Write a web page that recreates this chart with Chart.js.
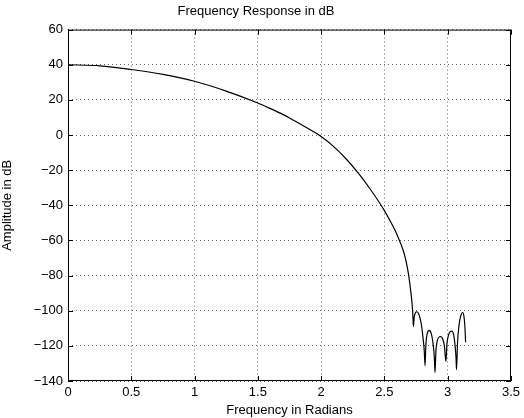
<!DOCTYPE html>
<html>
<head>
<meta charset="utf-8">
<script src="https://cdn.jsdelivr.net/npm/chart.js@4/dist/chart.umd.min.js"></script>
<style>
    html, body { margin: 0; padding: 0; background: #fff; }
    #wrap { width: 524px; height: 418px; }
</style>
</head>
<body>
<div id="wrap"><canvas id="grafico" width="524" height="418"></canvas></div>
<script>
// frequência (rad) e amplitude (dB)
const frequencia = [
    0, 0.25, 0.5, 0.75, 1.0, 1.25, 1.5, 1.6, 1.7, 1.75, 1.8, 1.9, 2.0, 2.1, 2.2, 2.3, 2.4, 2.5,
    2.55, 2.6, 2.65, 2.67, 2.69, 2.71, 2.723,
    2.729, 2.735, 2.745, 2.758, 2.772, 2.790, 2.806, 2.815, 2.821,
    2.828, 2.838, 2.855, 2.872, 2.885, 2.894, 2.900,
    2.907, 2.918, 2.935, 2.947, 2.960, 2.974, 2.986,
    2.994, 3.006, 3.020, 3.034, 3.048, 3.060, 3.066, 3.070,
    3.078, 3.090, 3.105, 3.118, 3.128, 3.136, 3.1416
];
const amplitude = [
    40, 39.4, 37.3, 34.5, 30.6, 25.0, 18.2, 15.0, 11.6, 9.7, 7.7, 3.6, -0.8, -6.6, -13.8, -22.3, -32, -43,
    -49.5, -56.8, -66, -71.5, -79, -90, -100,
    -109, -104, -101.2, -100.6, -102, -107, -116, -123, -131.3,
    -119, -113, -111.2, -113.5, -119, -126, -135.2,
    -123, -117, -114.8, -114.7, -116, -120, -128.9,
    -119, -114, -111.8, -111.6, -114, -121, -127, -133.6,
    -118, -108, -102.5, -101, -103, -109, -118
];
const ticksX = [0, 0.5, 1, 1.5, 2, 2.5, 3, 3.5];
const ticksY = [-140, -120, -100, -80, -60, -40, -20, 0, 20, 40, 60];

const fonte = "'Liberation Sans', Arial, sans-serif";
const menos = v => String(v).replace('-', '\u2212');

// moldura + traços internos estilo MATLAB
const moldura = {
    id: 'moldura',
    afterDraw(chart) {
        const { ctx, chartArea: a, scales } = chart;
        ctx.save();
        ctx.strokeStyle = '#000';
        ctx.lineWidth = 1;
        ctx.strokeRect(a.left + 0.5, a.top + 0.5, a.right - a.left - 1, a.bottom - a.top - 1);
        ctx.beginPath();
        ticksX.forEach(v => {
            const px = Math.round(scales.x.getPixelForValue(v)) + 0.5;
            ctx.moveTo(px, a.bottom); ctx.lineTo(px, a.bottom - 5);
            ctx.moveTo(px, a.top);    ctx.lineTo(px, a.top + 5);
        });
        ticksY.forEach(v => {
            const py = Math.round(scales.y.getPixelForValue(v)) + 0.5;
            ctx.moveTo(a.left, py);  ctx.lineTo(a.left + 5, py);
            ctx.moveTo(a.right, py); ctx.lineTo(a.right - 5, py);
        });
        ctx.stroke();
        ctx.restore();
    }
};

const grade = { color: 'rgba(0,0,0,0.6)', lineWidth: 1, drawTicks: false };
const borda = { display: false, dash: [1, 3] };

new Chart(document.getElementById('grafico'), {
    type: 'line',
    data: {
        datasets: [{
            data: frequencia.map((f, i) => ({ x: f, y: amplitude[i] })),
            borderColor: '#000',
            borderWidth: 1.2,
            pointRadius: 0,
            cubicInterpolationMode: 'monotone',
            fill: false
        }]
    },
    options: {
        responsive: false,
        animation: false,
        layout: { padding: { left: 0, right: 12, top: 0, bottom: 0 } },
        plugins: {
            legend: { display: false },
            tooltip: { enabled: false },
            title: {
                display: true,
                text: 'Frequency Response in dB',
                color: '#000',
                font: { family: fonte, size: 13, weight: 'normal' },
                padding: { top: 4, bottom: 10 }
            }
        },
        scales: {
            x: {
                type: 'linear',
                min: 0, max: 3.5,
                afterBuildTicks: s => { s.ticks = ticksX.map(v => ({ value: v })); },
                afterFit: s => { s.height = 37; },
                grid: grade,
                border: borda,
                ticks: {
                    color: '#000', padding: 4,
                    font: { family: fonte, size: 13 },
                    callback: v => menos(v)
                },
                title: {
                    display: true, text: 'Frequency in Radians', color: '#000',
                    font: { family: fonte, size: 13 }, padding: { top: 0, bottom: 0 }
                }
            },
            y: {
                type: 'linear',
                min: -140, max: 60,
                afterBuildTicks: s => { s.ticks = ticksY.map(v => ({ value: v })); },
                afterFit: s => { s.width = 68; },
                grid: grade,
                border: borda,
                ticks: {
                    color: '#000', padding: 5,
                    font: { family: fonte, size: 13 },
                    callback: v => menos(v)
                },
                title: {
                    display: true, text: 'Amplitude in dB', color: '#000',
                    font: { family: fonte, size: 13 }, padding: { top: 0, bottom: 4 }
                }
            }
        }
    },
    plugins: [moldura]
});
</script>
</body>
</html>
